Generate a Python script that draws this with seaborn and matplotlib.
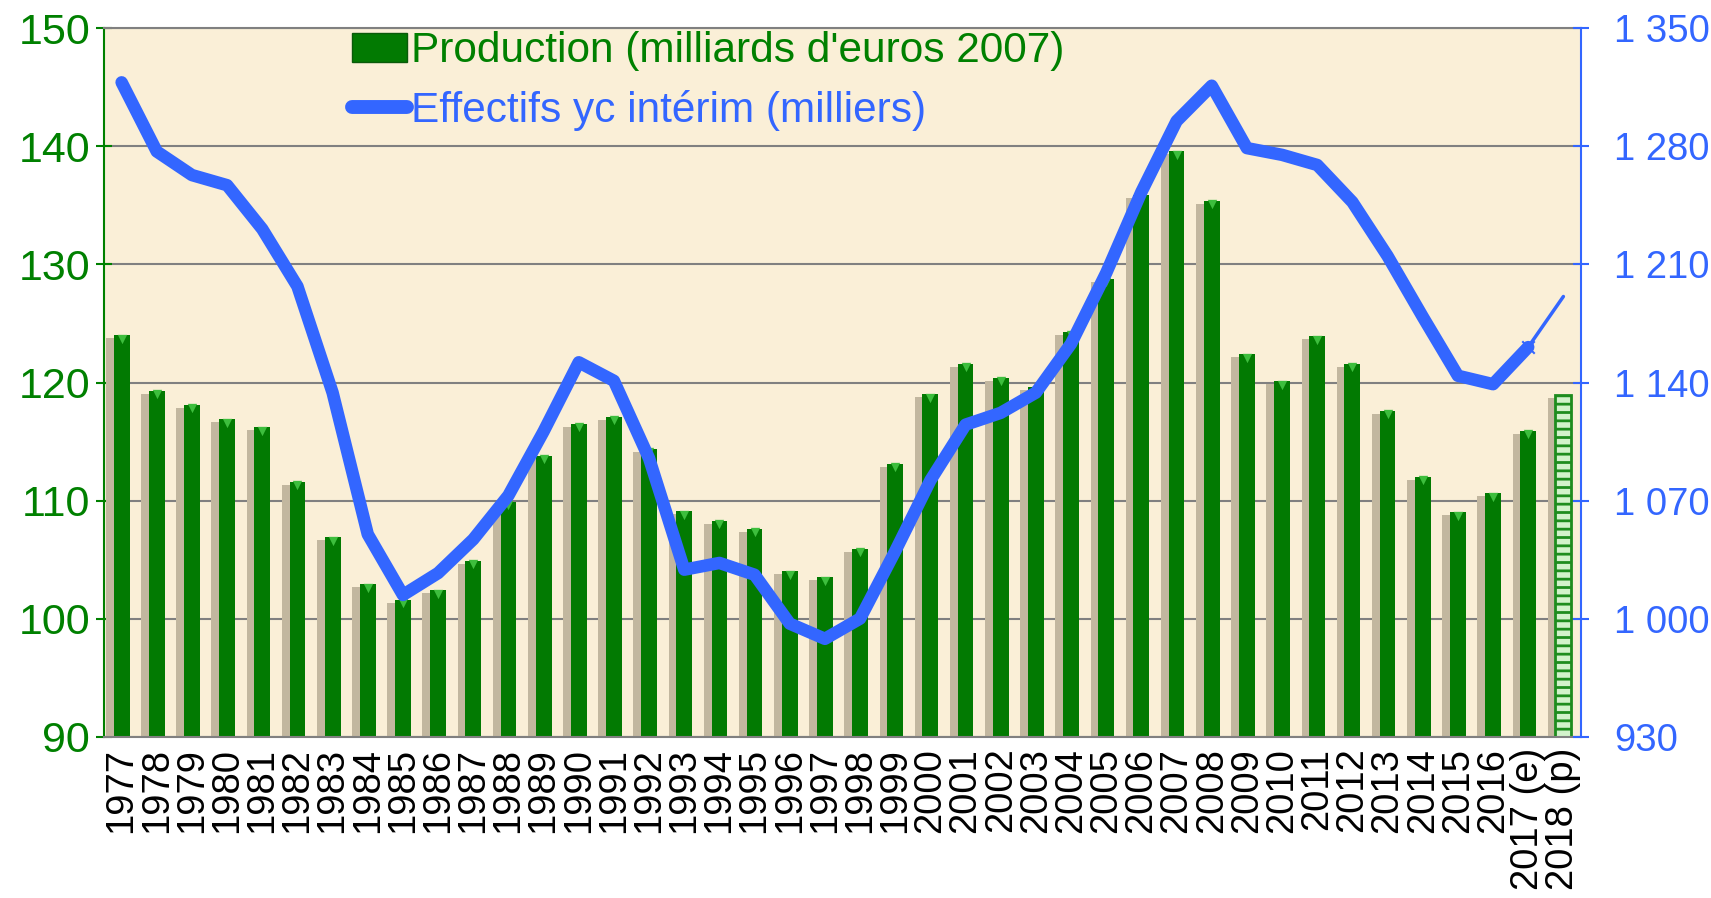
import numpy as np
import pandas as pd
import matplotlib
matplotlib.use('Agg')
import matplotlib.pyplot as plt
import seaborn as sns
from matplotlib.lines import Line2D
from matplotlib.patches import Patch

# Data
years = ['1977', '1978', '1979', '1980', '1981', '1982', '1983', '1984', '1985', '1986',
         '1987', '1988', '1989', '1990', '1991', '1992', '1993', '1994', '1995', '1996',
         '1997', '1998', '1999', '2000', '2001', '2002', '2003', '2004', '2005', '2006',
         '2007', '2008', '2009', '2010', '2011', '2012', '2013', '2014', '2015', '2016',
         '2017 (e)', '2018 (p)']
production = [124.0, 119.3, 118.1, 116.9, 116.2, 111.6, 106.9, 102.9, 101.6, 102.4,
              104.9, 109.9, 113.8, 116.5, 117.1, 114.4, 109.1, 108.3, 107.6, 104.0,
              103.5, 105.9, 113.1, 119.0, 121.6, 120.4, 119.6, 124.3, 128.8, 135.9,
              139.6, 135.4, 122.4, 120.1, 123.9, 121.6, 117.6, 112.0, 109.0, 110.6,
              115.9, 118.9]
effectifs = [1318, 1277, 1263, 1257, 1231, 1197, 1134, 1050, 1014, 1027,
             1047, 1073, 1111, 1152, 1141, 1095, 1029, 1033, 1026, 997,
             988, 1000, 1040, 1082, 1115, 1122, 1134, 1163, 1205, 1253,
             1295, 1316, 1279, 1275, 1269, 1247, 1215, 1179, 1144, 1139,
             1161, 1191]
left_ticks = [90, 100, 110, 120, 130, 140, 150]
right_ticks = [930, 1000, 1070, 1140, 1210, 1280, 1350]

label_prod = "Production (milliards d'euros 2007)"
label_eff = "Effectifs yc intérim (milliers)"

green = '#008000'
bar_green = '#027A02'
blue = '#3366FF'
grey = '#808080'

sns.set_theme(style='white')
plt.rcParams['font.family'] = ['Liberation Sans', 'DejaVu Sans']
plt.rcParams['hatch.linewidth'] = 2.0

df = pd.DataFrame({'annee': years, 'production': production, 'effectifs': effectifs})
df['pos'] = np.arange(len(df))

fig = plt.figure(figsize=(17.11, 8.98), dpi=100)
fig.patch.set_facecolor('white')
ax = fig.add_axes([0.0608, 0.1797, 0.8632, 0.7887])
ax.set_facecolor('#FAEFD7')
ax.set_axisbelow(True)
ax.grid(axis='y', color=grey, linewidth=1.5)
ax.grid(axis='x', visible=False)

# shadow bars behind the green bars
sns.barplot(data=df, x='annee', y='production', color='#C2B79F', width=0.45,
            saturation=1, linewidth=0, ax=ax)
for p in ax.patches:
    p.set_x(p.get_x() - 0.22)
    p.set_height(p.get_height() - 0.25)

sns.barplot(data=df, x='annee', y='production', color=bar_green, width=0.45,
            saturation=1, linewidth=0, ax=ax)
last = ax.patches[-1]
last.set_facecolor('#D2F2CB')
last.set_edgecolor('#1E8C1E')
last.set_linewidth(2)
last.set_hatch('--')

# light cap on top of each solid bar
caps = df.iloc[:-1]
ax.scatter(caps['pos'], caps['production'] - 0.3, marker='v', s=45,
           color='#3DBE3D', linewidths=0, zorder=3)

ax.set_ylim(90, 150)
ax.set_yticks(left_ticks)
ax.set_xticks(range(len(years)))
ax.set_xticklabels(years, rotation=90, fontsize=27.5, color='black')
ax.set_xticks(np.arange(-0.5, len(years), 1), minor=True)
ax.tick_params(axis='x', which='major', length=0, pad=8)
ax.tick_params(axis='x', which='minor', length=10, width=1.5, color=grey,
               direction='inout')
ax.tick_params(axis='y', which='major', length=12, width=1.5, color=green,
               direction='inout', labelcolor=green, labelsize=31, pad=4, left=True)
ax.set_xlabel('')
ax.set_ylabel('')
ax.spines['left'].set_color(green)
ax.spines['left'].set_linewidth(1.5)
for side in ['bottom', 'top']:
    ax.spines[side].set_color(grey)
    ax.spines[side].set_linewidth(1.5)
ax.spines['right'].set_visible(False)

# employment line on the right axis
ax2 = ax.twinx()
main = df.iloc[:-1]
tail = df.iloc[-2:]
sns.lineplot(x=main['pos'], y=main['effectifs'], color=blue, linewidth=9,
             solid_capstyle='round', solid_joinstyle='round', ax=ax2)
sns.lineplot(x=tail['pos'], y=tail['effectifs'], color=blue, linewidth=2.5,
             solid_capstyle='round', ax=ax2)
ax2.scatter(df['pos'].iloc[-2], df['effectifs'].iloc[-2], marker='x', s=80,
            color=blue, linewidths=1.5, zorder=5)
ax2.set_ylim(930, 1350)
ax2.set_yticks(right_ticks)
ax2.set_yticklabels([f"{v:,}".replace(',', ' ') for v in right_ticks])
ax2.tick_params(axis='y', which='major', length=12, width=1.5, color=blue,
                direction='inout', labelcolor=blue, labelsize=27.5, pad=18, right=True)
ax2.set_ylabel('')
ax2.set_xlabel('')
ax2.spines['right'].set_color(blue)
ax2.spines['right'].set_linewidth(1.5)
for side in ['left', 'top', 'bottom']:
    ax2.spines[side].set_visible(False)
ax.set_xlim(-0.5, len(years) - 0.5)

handles = [Patch(facecolor=bar_green, edgecolor='#0A5A0A', linewidth=1),
           Line2D([0], [0], color=blue, linewidth=10, solid_capstyle='round')]
leg = ax2.legend(handles, [label_prod, label_eff], loc='upper left',
                 bbox_to_anchor=(0.168, 0.996), frameon=False, fontsize=30.5,
                 handlelength=1.3, handletextpad=0.1, labelspacing=0.45,
                 borderaxespad=0, borderpad=0, labelcolor=[green, blue])

fig.savefig('out.png', dpi=100, facecolor='white')
